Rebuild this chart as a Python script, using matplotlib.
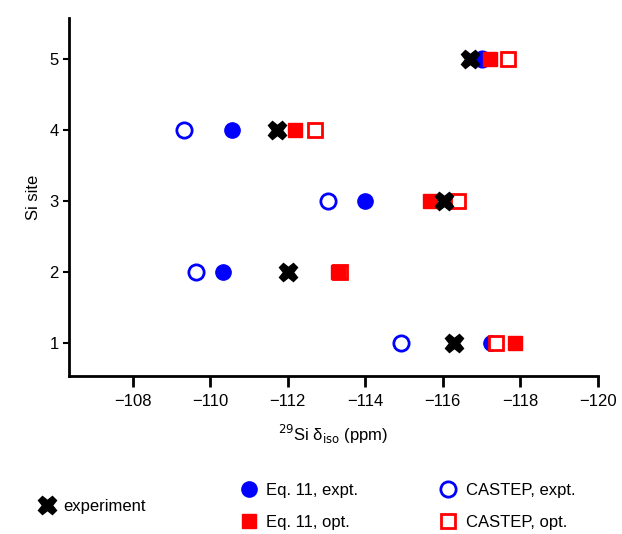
import matplotlib
matplotlib.use("Agg")
import matplotlib.pyplot as plt
from matplotlib.lines import Line2D

plt.rcParams['font.family'] = ['Liberation Sans', 'DejaVu Sans']

sites = [1, 2, 3, 4, 5]
experiment = [-116.28, -112.01, -116.03, -111.71, -116.70]
eq11_expt = [-117.24, -110.33, -114.00, -110.55, -117.00]
eq11_opt = [-117.86, -113.30, -115.66, -112.18, -117.21]
castep_expt = [-114.91, -109.63, -113.04, -109.32, -117.00]
castep_opt = [-117.38, -113.35, -116.39, -112.70, -117.68]

fig = plt.figure(figsize=(6.22, 5.34), dpi=100)
ax = fig.add_axes([0.111, 0.296, 0.85, 0.670])

ms = 11
ax.plot(castep_expt, sites, 'o', ls='none', ms=ms, mfc='white', mec='blue', mew=2, zorder=3)
ax.plot(eq11_expt, sites, 'o', ls='none', ms=ms, mfc='blue', mec='blue', zorder=4)
ax.plot(castep_opt, sites, 's', ls='none', ms=ms - 1, mfc='white', mec='red', mew=2, zorder=5)
ax.plot(eq11_opt, sites, 's', ls='none', ms=ms - 1, mfc='red', mec='red', zorder=6)
ax.plot(experiment, sites, 'X', ls='none', ms=13, mfc='black', mec='black', zorder=7)

ax.set_xlim(-106.35, -120)
ax.set_ylim(0.535, 5.58)
ax.set_xticks([-108, -110, -112, -114, -116, -118, -120])
ax.set_xticklabels(['\u2212108', '\u2212110', '\u2212112', '\u2212114', '\u2212116', '\u2212118', '\u2212120'])
ax.set_yticks(sites)
for s in ['top', 'right']:
    ax.spines[s].set_visible(False)
for s in ['left', 'bottom']:
    ax.spines[s].set_linewidth(2)
ax.tick_params(axis='x', direction='out', length=8, width=2, labelsize=12, pad=5)
ax.tick_params(axis='y', direction='out', length=4, width=1.5, labelsize=12)
ax.set_xlabel('$^{29}$Si \u03b4$_{\\rm iso}$ (ppm)', fontsize=12, labelpad=10)
ax.set_ylabel('Si site', fontsize=12, labelpad=6)

h_exp = Line2D([], [], marker='X', ls='none', ms=13, mfc='black', mec='black')
h1 = Line2D([], [], marker='o', ls='none', ms=ms, mfc='blue', mec='blue')
h2 = Line2D([], [], marker='s', ls='none', ms=ms - 1, mfc='red', mec='red')
h3 = Line2D([], [], marker='o', ls='none', ms=ms, mfc='white', mec='blue', mew=2)
h4 = Line2D([], [], marker='s', ls='none', ms=ms - 1, mfc='white', mec='red', mew=2)

fig.legend([h_exp], ['experiment'], loc='center left', bbox_to_anchor=(0.035, 0.052),
           frameon=False, fontsize=12, handletextpad=0.0, borderpad=0)
fig.legend([h1, h2, h3, h4], ['Eq. 11, expt.', 'Eq. 11, opt.', 'CASTEP, expt.', 'CASTEP, opt.'],
           ncol=2, loc='center left', bbox_to_anchor=(0.36, 0.052), frameon=False,
           fontsize=12, handletextpad=0.05, columnspacing=4.4, labelspacing=1.0, borderpad=0)

fig.savefig('out.png', dpi=100)
